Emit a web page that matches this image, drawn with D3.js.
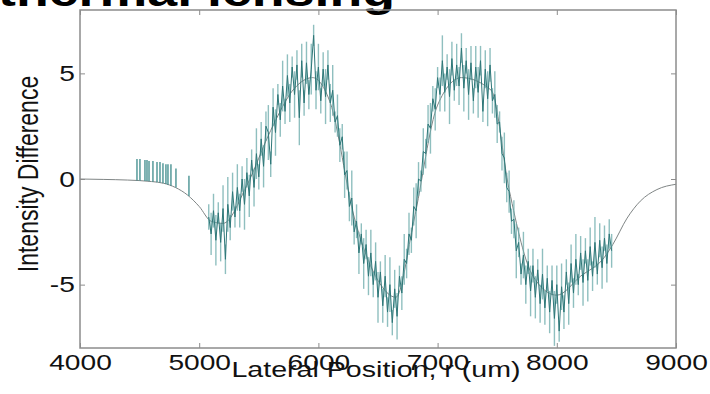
<!DOCTYPE html>
<html>
<head>
<meta charset="utf-8">
<script src="https://cdn.jsdelivr.net/npm/d3@7"></script>
<style>
  html, body { margin: 0; padding: 0; background: #fff; }
  svg { display: block; font-family: "Liberation Sans", Arial, sans-serif; }
</style>
</head>
<body>
<div id="chart"></div>
<script>
// measured signal, [lateral position (um), intensity difference]
const measured = [
  [5080, -1.8], [5100, -2.6], [5120, -1.5], [5140, -2.9], [5160, -1.6], [5180, -3.0],
  [5200, -1.4], [5220, -3.8], [5240, -1.2], [5260, -2.3], [5280, -0.6], [5300, -1.8],
  [5320, -0.4], [5340, -1.5], [5360, 0.0], [5380, -1.2], [5400, 0.3], [5420, -0.8],
  [5440, 0.9], [5460, -0.4], [5480, 1.2], [5500, 0.1], [5520, 1.9], [5540, 0.6],
  [5560, 2.5], [5580, 2.2], [5600, 0.7], [5620, 3.4], [5640, 2.2], [5660, 4.0],
  [5680, 2.8], [5700, 4.4], [5720, 3.2], [5740, 4.9], [5760, 3.6], [5780, 5.3],
  [5800, 4.0], [5820, 5.4], [5840, 2.9], [5860, 5.6], [5880, 3.6], [5900, 5.5],
  [5920, 4.0], [5940, 5.2], [5960, 6.8], [5980, 4.2], [6000, 5.3], [6020, 3.7],
  [6040, 5.2], [6060, 3.9], [6080, 5.4], [6100, 3.6], [6120, 4.2], [6140, 2.7],
  [6160, 3.0], [6180, 1.6], [6200, 2.0], [6220, 0.2], [6240, 0.4], [6260, -1.3],
  [6280, -0.9], [6300, -2.5], [6320, -2.0], [6340, -3.5], [6360, -2.6], [6380, -4.0],
  [6400, -3.1], [6420, -4.6], [6440, -3.5], [6460, -5.0], [6480, -3.9], [6500, -5.6],
  [6520, -4.4], [6540, -6.0], [6560, -4.6], [6580, -6.3], [6600, -5.0], [6620, -6.8],
  [6640, -5.2], [6660, -6.5], [6680, -4.6], [6700, -5.4], [6720, -3.8], [6740, -4.0],
  [6760, -2.6], [6780, -2.9], [6800, -1.3], [6820, -1.5], [6840, 0.0], [6860, -0.1],
  [6880, 1.3], [6900, 1.2], [6920, 2.6], [6940, 2.4], [6960, 3.8], [6980, 3.3],
  [7000, 4.8], [7020, 4.0], [7040, 5.6], [7060, 4.1], [7080, 5.3], [7100, 3.9],
  [7120, 5.7], [7140, 4.2], [7160, 5.4], [7180, 4.4], [7200, 6.2], [7220, 4.3],
  [7240, 5.6], [7260, 4.0], [7280, 5.5], [7300, 3.7], [7320, 5.3], [7340, 4.1],
  [7360, 5.6], [7380, 3.2], [7400, 5.2], [7420, 3.8], [7440, 5.4], [7460, 3.7],
  [7480, 4.0], [7500, 2.6], [7520, 2.7], [7540, 1.2], [7560, 1.0], [7580, -0.4],
  [7600, -0.6], [7620, -2.0], [7640, -1.9], [7660, -3.4], [7680, -3.0], [7700, -4.5],
  [7720, -3.6], [7740, -5.0], [7760, -3.9], [7780, -5.3], [7800, -4.1], [7820, -5.6],
  [7840, -4.3], [7860, -5.9], [7880, -4.5], [7900, -6.1], [7920, -4.7], [7940, -6.3],
  [7960, -4.8], [7980, -6.6], [8000, -5.0], [8020, -7.2], [8040, -5.1], [8060, -6.3],
  [8080, -4.4], [8100, -5.9], [8120, -4.0], [8140, -5.4], [8160, -3.8], [8180, -5.0],
  [8200, -3.5], [8220, -4.9], [8240, -3.4], [8260, -4.8], [8280, -3.2], [8300, -4.6],
  [8320, -3.0], [8340, -4.5], [8360, -2.9], [8380, -4.2], [8400, -2.8], [8420, -4.0],
  [8440, -2.6], [8460, -3.4]
];

// half length of the vertical stroke drawn at each measured point
const spread = [
  0.6, 1.0, 0.8, 1.2, 0.5, 0.9, 1.1, 0.7, 1.3, 0.6,
  0.9, 0.5, 1.1, 0.8, 0.6, 1.2, 0.7, 1.0, 0.5, 0.9,
  1.2, 0.6, 0.8, 1.0, 0.7, 1.3, 0.6, 0.9, 1.1, 0.5,
  0.8, 1.2, 0.6, 1.0, 0.9, 0.5, 1.1, 0.7, 1.3, 0.8,
  0.6, 1.0, 0.7, 1.2, 0.5, 0.9, 1.1, 0.6, 0.8, 1.3,
  0.7, 0.9, 1.2, 0.5, 1.0, 0.8, 0.6, 1.1, 0.9, 0.7,
  1.3, 0.6, 0.8, 1.0, 0.5, 1.2, 0.7, 0.9, 1.1, 0.6,
  0.9, 1.2, 0.5, 0.8, 1.0, 0.7, 1.3, 0.6, 0.9, 1.1,
  0.5, 0.8, 1.2, 0.7, 1.0, 0.6, 0.9, 1.3, 0.8, 0.5,
  1.1, 0.7, 0.9, 1.2, 0.6, 1.0, 0.5, 0.8, 1.2, 0.9,
  0.6, 1.3, 0.8, 0.5, 1.0, 0.9, 0.7, 1.1, 0.6, 1.2,
  0.8, 0.6, 1.0, 1.2, 0.7, 0.5, 0.9, 1.3, 0.8, 0.6,
  1.1, 0.9, 0.5, 0.8, 1.2, 0.7, 1.0, 0.6, 0.9, 1.3,
  0.7, 0.5, 1.1, 0.9, 0.6, 1.2, 0.8, 1.0, 0.5, 0.9,
  1.2, 0.8, 0.6, 1.0, 0.7, 1.3, 0.9, 0.5, 1.1, 0.8,
  0.6, 1.0, 0.9, 0.7, 1.2, 0.5, 0.8, 1.1, 0.6, 1.0,
  0.9, 0.7, 1.2, 0.5, 0.8, 1.0, 0.6, 0.9, 0.7, 0.8
];

// isolated spikes on the left, [x, bottom, top]
const spikes = [
  [4478, -0.07, 0.95], [4503, -0.08, 0.95], [4545, -0.1, 0.9], [4562, -0.1, 0.9],
  [4579, -0.11, 0.85], [4612, -0.13, 0.85], [4646, -0.15, 0.8], [4671, -0.17, 0.8],
  [4696, -0.2, 0.75], [4721, -0.24, 0.7], [4738, -0.27, 0.7], [4763, -0.32, 0.7],
  [4805, -0.4, 0.5], [4914, -0.8, 0.15]
];

// model curve (thin grey)
const model = [
  [4000, 0], [4200, -0.02], [4400, -0.05], [4600, -0.12], [4700, -0.2], [4800, -0.4],
  [4900, -0.75], [5000, -1.3], [5100, -2.0], [5200, -2.1], [5400, -0.3], [5600, 2.3],
  [5800, 4.3], [5950, 4.8], [6100, 3.6], [6300, -1.8], [6500, -4.8], [6650, -5.6],
  [6800, -2.0], [7000, 3.5], [7200, 4.8], [7450, 4.2], [7600, -0.5], [7800, -4.6],
  [8000, -5.5], [8200, -4.6], [8400, -3.7], [8470, -3.1], [8590, -1.85], [8700, -1.05],
  [8840, -0.5], [9000, -0.25]
];

const xTicks = [4000, 5000, 6000, 7000, 8000, 9000];
const yTicks = [-5, 0, 5];

const width = 710, height = 394;
const m = { left: 80, right: 34, top: 10, bottom: 46 };
const sx = 1.28; // labels are stretched horizontally in the source

const svg = d3.select('#chart').append('svg')
  .attr('width', width)
  .attr('height', height);

const x = d3.scaleLinear().domain([4000, 9000]).range([m.left, width - m.right]);
const y = d3.scaleLinear().domain([-8, 8]).range([height - m.bottom, m.top]);

// title, cut at the top of the image
svg.append('text')
  .attr('transform', `translate(-2,6) scale(${sx},1)`)
  .style('font-size', '42px')
  .style('font-weight', 'bold')
  .style('fill', '#000')
  .text('thermal lensing');

// model
svg.append('path')
  .datum(model)
  .attr('fill', 'none')
  .attr('stroke', '#7f8585')
  .attr('stroke-width', 1)
  .attr('d', d3.line().x(d => x(d[0])).y(d => y(d[1])).curve(d3.curveMonotoneX));

// spikes
svg.append('g').selectAll('line')
  .data(spikes)
  .enter()
  .append('line')
  .attr('x1', d => x(d[0])).attr('x2', d => x(d[0]))
  .attr('y1', d => y(d[1])).attr('y2', d => y(d[2]))
  .attr('stroke', '#3b8a8a')
  .attr('stroke-width', 1.3);

// vertical strokes around each measured point
svg.append('g').selectAll('line')
  .data(measured)
  .enter()
  .append('line')
  .attr('x1', d => x(d[0])).attr('x2', d => x(d[0]))
  .attr('y1', (d, i) => y(d[1] - spread[i]))
  .attr('y2', (d, i) => y(d[1] + spread[i]))
  .attr('stroke', '#6aa9aa')
  .attr('stroke-opacity', 0.75)
  .attr('stroke-width', 1.4);

// measured signal
svg.append('path')
  .datum(measured)
  .attr('fill', 'none')
  .attr('stroke', '#2e7778')
  .attr('stroke-width', 1)
  .attr('d', d3.line().x(d => x(d[0])).y(d => y(d[1])));

// axes, ticks pointing inward
const frameColor = '#8c8c8c';
function styleAxis(g) {
  g.select('.domain').remove();
  g.selectAll('.tick line').attr('stroke', frameColor);
  g.selectAll('text')
    .style('font-size', '22px')
    .style('fill', '#111')
    .attr('transform', `scale(${sx},1)`);
}
const plain = d => String(d);

svg.append('g')
  .attr('transform', `translate(0,${y(-8)})`)
  .call(d3.axisBottom(x).tickValues(xTicks).tickFormat(plain).tickSizeInner(-5).tickSizeOuter(0).tickPadding(6))
  .call(styleAxis);

svg.append('g')
  .attr('transform', `translate(0,${y(8)})`)
  .call(d3.axisTop(x).tickValues(xTicks).tickSizeInner(-5).tickSizeOuter(0).tickFormat(''))
  .call(styleAxis);

svg.append('g')
  .attr('transform', `translate(${x(4000)},0)`)
  .call(d3.axisLeft(y).tickValues(yTicks).tickFormat(plain).tickSizeInner(-5).tickSizeOuter(0).tickPadding(4))
  .call(styleAxis);

svg.append('g')
  .attr('transform', `translate(${x(9000)},0)`)
  .call(d3.axisRight(y).tickValues(yTicks).tickSizeInner(-5).tickSizeOuter(0).tickFormat(''))
  .call(styleAxis);

// frame
svg.append('rect')
  .attr('x', x(4000)).attr('y', y(8))
  .attr('width', x(9000) - x(4000))
  .attr('height', y(-8) - y(8))
  .attr('fill', 'none')
  .attr('stroke', frameColor)
  .attr('stroke-width', 1.5);

// axis titles
svg.append('text')
  .attr('transform', `translate(376,377) scale(1.3,1)`)
  .attr('text-anchor', 'middle')
  .style('font-size', '22px')
  .style('fill', '#111')
  .text('Lateral Position, r (um)');

svg.append('text')
  .attr('transform', `translate(38,174) scale(${sx},1) rotate(-90)`)
  .attr('text-anchor', 'middle')
  .style('font-size', '23px')
  .style('fill', '#111')
  .text('Intensity Difference');
</script>
</body>
</html>
